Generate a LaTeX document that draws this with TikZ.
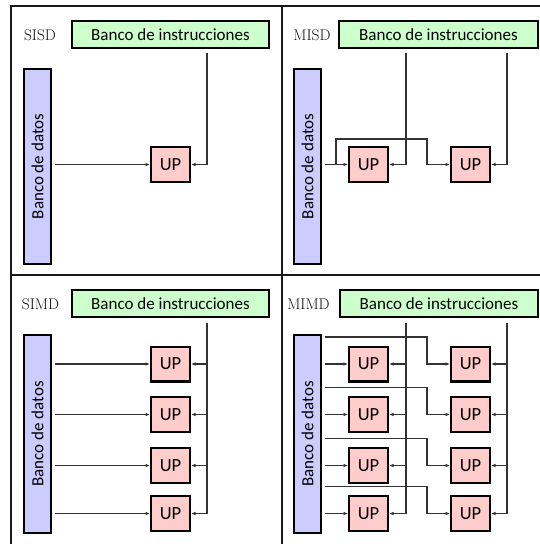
\documentclass[tikz,border=0pt]{standalone}
\usepackage{fontspec}
\newfontfamily\boxfont{Carlito}
\usetikzlibrary{arrows.meta}
\definecolor{insfill}{HTML}{CCFFCC}
\definecolor{datfill}{HTML}{CCCCFF}
\definecolor{upfill}{HTML}{FFCCCC}
\definecolor{wire}{HTML}{333333}
\definecolor{labelgray}{HTML}{111111}
\tikzset{
  frame/.style={line width=1.8pt, draw=black!90},
  insbox/.style={draw=black, line width=2.4pt, fill=insfill, minimum width=197pt, minimum height=27pt, inner sep=0pt, font=\boxfont\fontsize{17}{20}\selectfont},
  datbox/.style={draw=black, line width=2.4pt, fill=datfill, minimum width=27pt, inner sep=0pt, font=\boxfont\fontsize{17}{20}\selectfont},
  upbox/.style={draw=black, line width=2.4pt, fill=upfill, minimum width=38.6pt, minimum height=34.6pt, inner sep=0pt, font=\boxfont\fontsize{18.5}{20}\selectfont},
  kind/.style={text=labelgray, font=\fontsize{15.5}{17}\selectfont, inner sep=0pt},
  wirestyle/.style={draw=wire, line width=1.2pt},
  feed/.style={wirestyle, -{Latex[length=4.5pt,width=3.5pt]}},
}
\begin{document}
\begin{tikzpicture}[x=1pt,y=-1pt]
  \useasboundingbox (0,0) rectangle (540,544);
  \fill[white] (0,0) rectangle (540,544);

  % quadrant frame
  \draw[frame] (11,544) -- (11,6) -- (540,6);
  \draw[frame] (282,6) -- (282,544);
  \draw[frame] (11,275) -- (540,275);

  % ---------------- SISD ----------------
  \node[kind] (l1) at (40,35) {SISD};
  \node[insbox] (ins1) at (170.5,34.5) {Banco de instrucciones};
  \node[datbox, minimum height=195pt] (dat1) at (37.5,166.5) {};
  \node[rotate=90, font=\boxfont\fontsize{17}{20}\selectfont] (dt1) at (dat1.center) {Banco de datos};
  \node[upbox] (a1) at (170.5,164.5) {UP};
  \coordinate (c1) at (207,53);
  \draw[feed] (c1) |- (a1.east);
  \draw[feed, shorten <=3pt] (dat1.east |- a1.west) -- (a1.west);

  % ---------------- MISD ----------------
  \node[kind] (l2) at (312,35) {MISD};
  \node[insbox, minimum width=199pt] (ins2) at (438.5,34.5) {Banco de instrucciones};
  \node[datbox, minimum height=195pt] (dat2) at (307.5,166.5) {};
  \node[rotate=90, font=\boxfont\fontsize{17}{20}\selectfont] (dt2) at (dat2.center) {Banco de datos};
  \node[upbox] (b1) at (368.5,164.5) {UP};
  \node[upbox] (b2) at (470.5,164.5) {UP};
  \coordinate (c2) at (406,53);
  \coordinate (c3) at (507,53);
  \coordinate (k1) at (336,164.5);
  \coordinate (k2) at (427,139);
  \draw[feed] (c2) |- (b1.east);
  \draw[feed] (c3) |- (b2.east);
  \draw[feed, shorten <=3pt] (dat2.east |- b1.west) -- (b1.west);
  \draw[feed] (k1) |- (k2) |- (b2.west);

  % ---------------- SIMD ----------------
  \node[kind] (l3) at (40.5,304) {SIMD};
  \node[insbox] (ins3) at (170.5,303.5) {Banco de instrucciones};
  \node[datbox, minimum height=198pt] (dat3) at (37.5,434) {};
  \node[rotate=90, font=\boxfont\fontsize{17}{20}\selectfont] (dt3) at (dat3.center) {Banco de datos};
  \coordinate (c4) at (207,323);
  \foreach \r/\y in {1/364,2/414.5,3/465.5,4/513.5} {
    \node[upbox] (s\r) at (170.5,\y) {UP};
    \draw[feed, shorten <=3pt] (dat3.east |- s\r.west) -- (s\r.west);
    \draw[feed] (c4 |- s\r.east) -- (s\r.east);
  }
  \draw[wirestyle] (c4) -- (c4 |- s4.east);

  % ---------------- MIMD ----------------
  \node[kind] (l4) at (308.5,304) {MIMD};
  \node[insbox, minimum width=198pt] (ins4) at (439,303.5) {Banco de instrucciones};
  \node[datbox, minimum height=198pt] (dat4) at (307.5,434) {};
  \node[rotate=90, font=\boxfont\fontsize{17}{20}\selectfont] (dt4) at (dat4.center) {Banco de datos};
  \coordinate (c5) at (406,323);
  \coordinate (c6) at (507,323);
  \coordinate (bx) at (427,323);
  \foreach \r/\y in {1/364,2/414.5,3/465.5,4/513.5} {
    \node[upbox] (p\r) at (368.5,\y) {UP};
    \node[upbox] (q\r) at (470.5,\y) {UP};
    \draw[feed, shorten <=3pt] (dat4.east |- p\r.west) -- (p\r.west);
    \draw[feed] (c5 |- p\r.east) -- (p\r.east);
    \draw[feed] (c6 |- q\r.east) -- (q\r.east);
    \coordinate (m\r) at (bx |- 0,\y-27);
    \draw[feed, shorten <=3pt] (dat4.east |- m\r) -- (m\r) |- (q\r.west);
  }
  \draw[wirestyle] (c5) -- (c5 |- p4.east);
  \draw[wirestyle] (c6) -- (c6 |- q4.east);
\end{tikzpicture}
\end{document}
